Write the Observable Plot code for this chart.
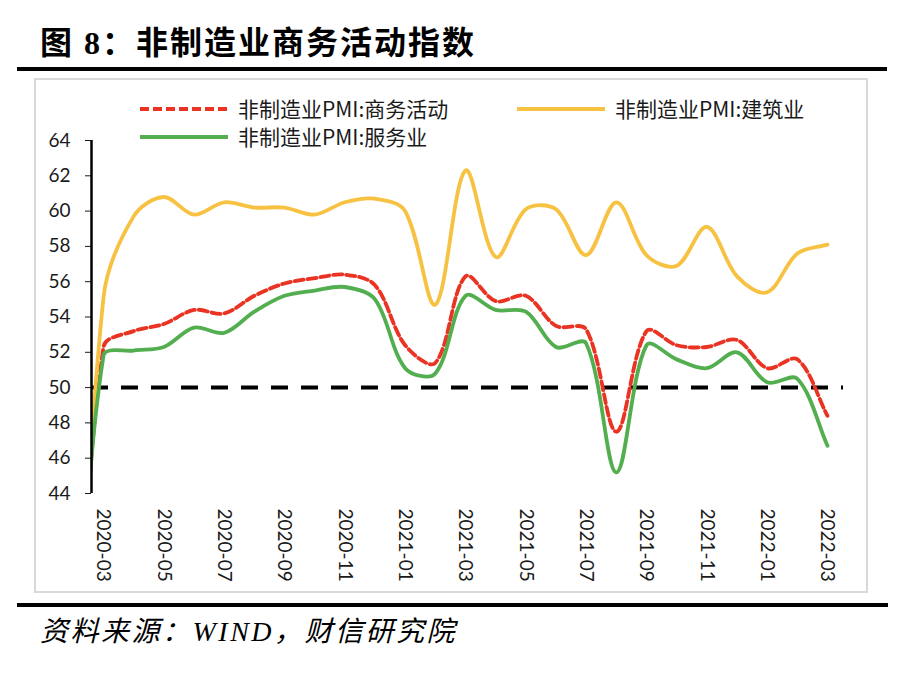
<!DOCTYPE html>
<html>
<head>
<meta charset="utf-8">
<script src="https://cdn.jsdelivr.net/npm/d3@7"></script>
<script src="https://cdn.jsdelivr.net/npm/@observablehq/plot@0.6"></script>
<style>
  html, body { margin: 0; padding: 0; background: #fff; }
  #page { position: relative; width: 912px; height: 678px; overflow: hidden; }
  .abs { position: absolute; }
  #title { left: 40px; top: 26px; font-family: "Liberation Serif", "Noto Sans CJK SC", serif; font-weight: 700; font-size: 32px; line-height: 34px; color: #000; white-space: nowrap; letter-spacing: 2px; }
  .rule { background: #000; }
  #box { left: 34px; top: 78px; width: 834px; height: 515px; border: 2px solid #d9d9d9; box-sizing: border-box; }
  #chart { left: 0; top: 0; }
  .leg { font-family: "Noto Sans CJK SC", sans-serif; font-size: 21px; line-height: 24px; color: #1a1a1a; white-space: nowrap; }
  #source { left: 40px; top: 617px; font-family: "Liberation Serif", "Noto Sans CJK SC", serif; font-style: italic; font-size: 28px; line-height: 30px; color: #000; white-space: nowrap; letter-spacing: 2.5px; }
</style>
</head>
<body>
<div id="page">
  <div id="title" class="abs">图 8：非制造业商务活动指数</div>
  <div class="abs rule" style="left:17px;top:67px;width:870px;height:4px;"></div>
  <div id="box" class="abs"></div>
  <div id="chart" class="abs"></div>
  <div id="legend"></div>
  <div class="abs rule" style="left:17px;top:603px;width:871px;height:4px;"></div>
  <div id="source" class="abs">资料来源：WIND，财信研究院</div>
</div>
<script>
// ---- data ----
const months = ["2020-02","2020-03","2020-04","2020-05","2020-06","2020-07","2020-08","2020-09","2020-10","2020-11","2020-12",
                "2021-01","2021-02","2021-03","2021-04","2021-05","2021-06","2021-07","2021-08","2021-09","2021-10","2021-11","2021-12",
                "2022-01","2022-02","2022-03"];
const business     = [29.6, 52.3, 53.2, 53.6, 54.4, 54.2, 55.2, 55.9, 56.2, 56.4, 55.8,
                      52.4, 51.4, 56.3, 54.9, 55.2, 53.5, 53.3, 47.5, 53.2, 52.4, 52.3, 52.7,
                      51.1, 51.6, 48.4];
const construction = [26.6, 55.1, 59.7, 60.8, 59.8, 60.5, 60.2, 60.2, 59.8, 60.5, 60.7,
                      60.0, 54.7, 62.3, 57.4, 60.1, 60.1, 57.5, 60.5, 57.5, 56.9, 59.1, 56.3,
                      55.4, 57.6, 58.1];
const services     = [30.1, 51.8, 52.1, 52.3, 53.4, 53.1, 54.3, 55.2, 55.5, 55.7, 55.0,
                      51.1, 50.8, 55.2, 54.4, 54.3, 52.3, 52.5, 45.2, 52.4, 51.6, 51.1, 52.0,
                      50.3, 50.5, 46.7];
const tickLabels = ["2020-03","2020-05","2020-07","2020-09","2020-11","2021-01","2021-03",
                    "2021-05","2021-07","2021-09","2021-11","2022-01","2022-03"];
const yTicks = [44, 46, 48, 50, 52, 54, 56, 58, 60, 62, 64];
const threshold = 50;

const seriesNames = ["非制造业PMI:商务活动", "非制造业PMI:建筑业", "非制造业PMI:服务业"];
const seriesColors = ["#ea3323", "#f7c142", "#52ae4f"];

// Spreadsheet-style smoothed line: Catmull-Rom tangents split by adjacent chord lengths
function smoothCurve(context) {
  let pts;
  return {
    areaStart() {}, areaEnd() {},
    lineStart() { pts = []; },
    point(x, y) { pts.push([+x, +y]); },
    lineEnd() {
      const n = pts.length;
      if (!n) return;
      context.moveTo(pts[0][0], pts[0][1]);
      if (n === 1) return;
      const dist = (a, b) => Math.hypot(b[0] - a[0], b[1] - a[1]);
      const cin = [], cout = [];
      for (let i = 0; i < n; i++) {
        const p = pts[i], prev = pts[Math.max(0, i - 1)], next = pts[Math.min(n - 1, i + 1)];
        const tx = next[0] - prev[0], ty = next[1] - prev[1];
        const dp = dist(prev, p), dn = dist(p, next), s = (dp + dn) || 1;
        cin[i] = [p[0] - tx * dp / s / 3, p[1] - ty * dp / s / 3];
        cout[i] = [p[0] + tx * dn / s / 3, p[1] + ty * dn / s / 3];
      }
      for (let i = 0; i < n - 1; i++) {
        context.bezierCurveTo(cout[i][0], cout[i][1], cin[i + 1][0], cin[i + 1][1], pts[i + 1][0], pts[i + 1][1]);
      }
    }
  };
}

const rows = (vals) => months.map((m, i) => ({i, m, v: vals[i]}));
const xDomain = [0.603, 25.53];

const plot = Plot.plot({
  width: 912,
  height: 600,
  marginLeft: 91,
  marginRight: 69,
  marginTop: 140,
  marginBottom: 107,
  style: {fontFamily: "Lato, 'Noto Sans', sans-serif", fontSize: "19px", color: "#1a1a1a", background: "transparent", overflow: "visible"},
  x: {type: "linear", domain: xDomain, ticks: tickLabels.map(l => months.indexOf(l)), tickFormat: i => months[i],
      tickRotate: 90, tickSize: 0, tickPadding: 15, label: null},
  y: {domain: [44, 64], ticks: yTicks, tickSize: 6, tickPadding: 15, label: null},
  marks: [
    Plot.ruleY([threshold], {stroke: "#000", strokeWidth: 4, strokeDasharray: "17,13"}),
    Plot.line(rows(business), {x: "i", y: "v", curve: smoothCurve, stroke: seriesColors[0], strokeWidth: 3.8, strokeDasharray: "9,4", clip: true}),
    Plot.line(rows(construction), {x: "i", y: "v", curve: smoothCurve, stroke: seriesColors[1], strokeWidth: 3.8, strokeLinecap: "round", clip: true}),
    Plot.line(rows(services), {x: "i", y: "v", curve: smoothCurve, stroke: seriesColors[2], strokeWidth: 3.8, strokeLinecap: "round", clip: true}),
    Plot.ruleX([xDomain[0]], {stroke: "#000", strokeWidth: 2.5})
  ]
});
document.getElementById("chart").appendChild(plot);

// ---- legend ----
const legendItems = [
  {name: seriesNames[0], color: seriesColors[0], dash: "9,4", x: 140, y: 109},
  {name: seriesNames[1], color: seriesColors[1], dash: null, x: 517, y: 109},
  {name: seriesNames[2], color: seriesColors[2], dash: null, x: 140, y: 137}
];
const legend = document.getElementById("legend");
for (const it of legendItems) {
  const sw = document.createElementNS("http://www.w3.org/2000/svg", "svg");
  sw.setAttribute("width", 88); sw.setAttribute("height", 10);
  sw.setAttribute("class", "abs");
  sw.style.left = it.x + "px"; sw.style.top = (it.y - 5) + "px";
  const ln = document.createElementNS("http://www.w3.org/2000/svg", "line");
  ln.setAttribute("x1", 0); ln.setAttribute("x2", 88); ln.setAttribute("y1", 5); ln.setAttribute("y2", 5);
  ln.setAttribute("stroke", it.color); ln.setAttribute("stroke-width", 4);
  if (it.dash) ln.setAttribute("stroke-dasharray", it.dash);
  sw.appendChild(ln);
  legend.appendChild(sw);
  const tx = document.createElement("div");
  tx.className = "abs leg";
  tx.textContent = it.name;
  tx.style.left = (it.x + 98) + "px";
  tx.style.top = (it.y - 13) + "px";
  legend.appendChild(tx);
}
</script>
</body>
</html>
